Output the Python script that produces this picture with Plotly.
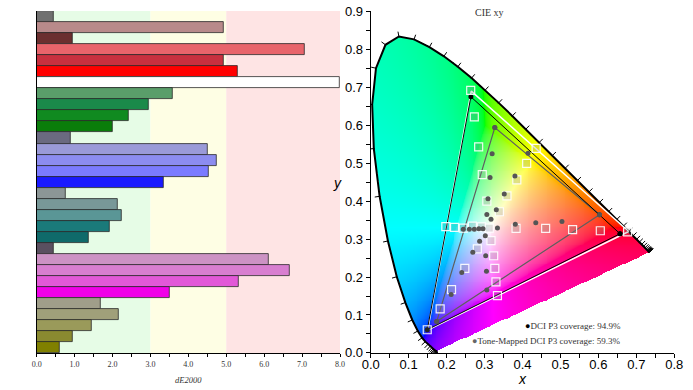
import numpy as np
import plotly.graph_objects as go

# ---------------- Left panel: dE2000 bars ----------------
bar_values = [0.44, 4.92, 0.95, 7.08, 4.93, 5.30, 7.98, 3.60, 2.95, 2.43, 2.00,
              0.90, 4.52, 4.76, 4.53, 3.36, 0.76, 2.14, 2.24, 1.93, 1.37, 0.44,
              6.12, 6.67, 5.32, 3.51, 1.68, 2.17, 1.45, 0.96, 0.61]
bar_colors = ["#707070", "#b88a8a", "#6b2f2f", "#e8646b", "#c8303f", "#ff0000", "#ffffff",
              "#5a9e6a", "#1a8a4a", "#108a20", "#0a7d0a", "#6a6a80", "#9a9ad8", "#8c8cf0",
              "#7b7bff", "#1a1aff", "#8c9696", "#789898", "#5a9696", "#1a7a7a", "#0f6a6a",
              "#5a5060", "#cc92c4", "#d87ed0", "#e258d8", "#f000e8", "#a09e8a", "#a0a07a",
              "#9a9a5a", "#8a8a30", "#808000"]
band_edges = [0, 3, 5, 8]
band_colors = ["#e6fce6", "#fefee4", "#fee4e4"]
left_ticks = [0, 1, 2, 3, 4, 5, 6, 7, 8]

# ---------------- Right panel: CIE 1931 xy ----------------
wavelengths = list(range(380, 705, 5))
locus_x = [0.1741, 0.1740, 0.1738, 0.1736, 0.1733, 0.1730, 0.1726, 0.1721, 0.1714, 0.1703,
           0.1689, 0.1669, 0.1644, 0.1611, 0.1566, 0.1510, 0.1440, 0.1355, 0.1241, 0.1096,
           0.0913, 0.0687, 0.0454, 0.0235, 0.0082, 0.0039, 0.0139, 0.0389, 0.0743, 0.1142,
           0.1547, 0.1929, 0.2296, 0.2658, 0.3016, 0.3373, 0.3731, 0.4087, 0.4441, 0.4788,
           0.5125, 0.5448, 0.5752, 0.6029, 0.6270, 0.6482, 0.6658, 0.6801, 0.6915, 0.7006,
           0.7079, 0.7140, 0.7190, 0.7230, 0.7260, 0.7283, 0.7300, 0.7311, 0.7320, 0.7327,
           0.7334, 0.7340, 0.7344, 0.7346, 0.7347]
locus_y = [0.0050, 0.0050, 0.0049, 0.0049, 0.0048, 0.0048, 0.0048, 0.0048, 0.0051, 0.0058,
           0.0069, 0.0086, 0.0109, 0.0138, 0.0177, 0.0227, 0.0297, 0.0399, 0.0578, 0.0868,
           0.1327, 0.2007, 0.2950, 0.4127, 0.5384, 0.6548, 0.7502, 0.8120, 0.8338, 0.8262,
           0.8059, 0.7816, 0.7543, 0.7243, 0.6923, 0.6589, 0.6245, 0.5896, 0.5547, 0.5202,
           0.4866, 0.4544, 0.4242, 0.3965, 0.3725, 0.3514, 0.3340, 0.3197, 0.3083, 0.2993,
           0.2920, 0.2859, 0.2809, 0.2770, 0.2740, 0.2717, 0.2700, 0.2689, 0.2680, 0.2673,
           0.2666, 0.2660, 0.2656, 0.2654, 0.2653]

p3_target_x = [0.680, 0.265, 0.150]
p3_target_y = [0.320, 0.690, 0.060]
p3_measured_x = [0.657, 0.264, 0.149]
p3_measured_y = [0.314, 0.675, 0.061]
tm_x = [0.603, 0.327, 0.174]
tm_y = [0.364, 0.594, 0.083]

target_x = [0.2635, 0.273, 0.2845, 0.294, 0.306,
            0.436, 0.411, 0.385, 0.359, 0.339,
            0.677, 0.605, 0.532, 0.461, 0.383,
            0.198, 0.221, 0.244, 0.268, 0.292, 0.3125,
            0.334, 0.330, 0.327, 0.324, 0.317,
            0.149, 0.183, 0.213, 0.248, 0.281]
target_y = [0.692, 0.622, 0.543, 0.470, 0.400,
            0.539, 0.4995, 0.456, 0.414, 0.372,
            0.319, 0.322, 0.325, 0.328, 0.328,
            0.333, 0.331, 0.329, 0.334, 0.332, 0.329,
            0.151, 0.187, 0.223, 0.256, 0.296,
            0.061, 0.116, 0.167, 0.223, 0.274]

measured_x = [0.327, 0.320, 0.3145, 0.309, 0.306,
              0.4145, 0.380, 0.352, 0.331, 0.317,
              0.603, 0.504, 0.435, 0.381, 0.334,
              0.244, 0.260, 0.273, 0.285, 0.296,
              0.302, 0.287, 0.269, 0.240, 0.212,
              0.306, 0.305, 0.303, 0.174]
measured_y = [0.594, 0.525, 0.462, 0.406, 0.365,
              0.526, 0.466, 0.419, 0.377, 0.352,
              0.364, 0.346, 0.343, 0.339, 0.329,
              0.326, 0.326, 0.326, 0.327, 0.327,
              0.309, 0.294, 0.265, 0.212, 0.154,
              0.166, 0.215, 0.256, 0.083]

coverage_labels = ["DCI P3 coverage: 94.9%", "Tone-Mapped DCI P3 coverage: 59.3%"]

# ---------------- chromaticity image ----------------
step = 0.0025
xs = np.arange(step / 2, 0.745, step)
ys = np.arange(step / 2, 0.845, step)
PX, PY = np.meshgrid(xs, ys)

vx = np.array(locus_x)
vy = np.array(locus_y)
inside = np.zeros(PX.shape, bool)
n = len(vx)
j = n - 1
with np.errstate(divide="ignore", invalid="ignore"):
    for i in range(n):
        xi, yi, xj, yj = vx[i], vy[i], vx[j], vy[j]
        if yi != yj:
            cond = ((yi > PY) != (yj > PY)) & (PX < (xj - xi) * (PY - yi) / (yj - yi) + xi)
            inside ^= cond
        j = i

X = PX / PY
Z = (1 - PX - PY) / PY
R = 3.2406 * X - 1.5372 - 0.4986 * Z
G = -0.9689 * X + 1.8758 + 0.0415 * Z
B = 0.0557 * X - 0.2040 + 1.0570 * Z
rgb = np.stack([R, G, B], -1)
rgb = rgb - np.minimum(rgb.min(-1, keepdims=True), 0)   # desaturate by adding white
rgb = rgb / np.maximum(rgb.max(-1, keepdims=True), 1e-9)
rgb = np.where(rgb <= 0.0031308, 12.92 * rgb, 1.055 * np.power(rgb, 1 / 2.4) - 0.055)
rgb8 = np.round(rgb * 255).astype(int)
alpha = inside.astype(int)
img = np.concatenate([rgb8, alpha[..., None]], -1)
img[~inside] = [255, 255, 255, 0]

# locus tick marks (outward normals)
tx = np.gradient(vx)
ty = np.gradient(vy)
nrm = np.hypot(tx, ty)
nx, ny = -ty / nrm, tx / nrm
tick_len = 0.013
tick_x, tick_y = [], []
for k in range(len(vx)):
    tick_x += [vx[k] - 0.002 * nx[k], vx[k] + tick_len * nx[k], None]
    tick_y += [vy[k] - 0.002 * ny[k], vy[k] + tick_len * ny[k], None]

# ---------------- figure ----------------
fig = go.Figure()

fig.add_trace(go.Bar(
    x=bar_values, y=list(range(len(bar_values))), orientation="h",
    marker=dict(color=bar_colors, line=dict(color="#2a2a2a", width=0.8)),
    width=1.0, xaxis="x", yaxis="y", showlegend=False, hoverinfo="x"))

fig.add_trace(go.Image(z=img.tolist(), colormodel="rgba", x0=xs[0], dx=step,
                       y0=ys[0], dy=step, xaxis="x2", yaxis="y2", hoverinfo="skip"))

fig.add_trace(go.Scatter(x=tick_x, y=tick_y, mode="lines",
                         line=dict(color="black", width=1), xaxis="x2", yaxis="y2",
                         showlegend=False, hoverinfo="skip"))
fig.add_trace(go.Scatter(x=locus_x, y=locus_y, mode="lines",
                         line=dict(color="black", width=2), xaxis="x2", yaxis="y2",
                         showlegend=False, hoverinfo="skip"))

# triangles
fig.add_trace(go.Scatter(x=p3_target_x + [p3_target_x[0]], y=p3_target_y + [p3_target_y[0]],
                         mode="lines", line=dict(color="white", width=1.5),
                         xaxis="x2", yaxis="y2", showlegend=False, hoverinfo="skip"))
fig.add_trace(go.Scatter(x=tm_x + [tm_x[0]], y=tm_y + [tm_y[0]],
                         mode="lines+markers", line=dict(color="#5f5f5f", width=1.2),
                         marker=dict(color="#555555", size=5),
                         xaxis="x2", yaxis="y2", showlegend=False, hoverinfo="skip"))
fig.add_trace(go.Scatter(x=p3_measured_x + [p3_measured_x[0]], y=p3_measured_y + [p3_measured_y[0]],
                         mode="lines+markers", line=dict(color="black", width=1),
                         marker=dict(color="black", size=5),
                         xaxis="x2", yaxis="y2", showlegend=False, hoverinfo="skip"))

# targets & measured points
fig.add_trace(go.Scatter(x=target_x, y=target_y, mode="markers",
                         marker=dict(symbol="square", size=8, color="rgba(140,140,140,0.25)",
                                     line=dict(color="rgba(255,255,255,0.9)", width=1.2)),
                         xaxis="x2", yaxis="y2", showlegend=False, hoverinfo="x+y"))
fig.add_trace(go.Scatter(x=measured_x, y=measured_y, mode="markers",
                         marker=dict(color="#555555", size=5),
                         xaxis="x2", yaxis="y2", showlegend=False, hoverinfo="x+y"))

# background bands for left panel
for k in range(len(band_colors)):
    fig.add_shape(type="rect", xref="x", yref="y domain",
                  x0=band_edges[k], x1=band_edges[k + 1], y0=0, y1=1,
                  fillcolor=band_colors[k], line=dict(width=0), layer="below")

ydom = [1 - 353.3 / 390, 1 - 11 / 390]
serif = "Liberation Serif, Times New Roman, serif"
sans = "Liberation Sans, Arial, sans-serif"

fig.update_layout(
    width=693, height=390,
    margin=dict(l=0, r=0, t=0, b=0, autoexpand=False),
    paper_bgcolor="white", plot_bgcolor="rgba(0,0,0,0)",
    bargap=0,
    xaxis=dict(domain=[36.7 / 693, 340 / 693], range=[0, 8], tickvals=left_ticks,
               ticktext=[f"{v:.1f}" for v in left_ticks], automargin=False,
               tickfont=dict(family=serif, size=8, color="#333"),
               ticks="outside", ticklen=3, tickcolor="black",
               minor=dict(dtick=0.5, ticks="outside", ticklen=3, tickcolor="black"),
               showline=True, linecolor="black", linewidth=1, showgrid=False, zeroline=False),
    yaxis=dict(domain=ydom, range=[len(bar_values) - 0.5, -0.5], showticklabels=False,
               automargin=False,
               ticks="", showline=True, linecolor="black", linewidth=1, showgrid=False,
               zeroline=False),
    xaxis2=dict(domain=[370.7 / 693, 674.3 / 693], range=[0, 0.8], anchor="y2", dtick=0.1,
                tickformat=".1f", tickfont=dict(family=sans, size=13, color="black"),
                automargin=False, ticklabelstandoff=-5,
                ticks="outside", ticklen=4, tickcolor="black",
                minor=dict(dtick=0.05, ticks="outside", ticklen=4, tickcolor="black"),
                showline=True, linecolor="black", linewidth=1, showgrid=False, zeroline=False),
    yaxis2=dict(domain=ydom, range=[0, 0.9], anchor="x2", dtick=0.1, tickformat=".1f",
                tickfont=dict(family=sans, size=13, color="black"), automargin=False,
                ticks="outside", ticklen=4, tickcolor="black",
                minor=dict(dtick=0.05, ticks="outside", ticklen=4, tickcolor="black"),
                showline=True, linecolor="black", linewidth=1, showgrid=False, zeroline=False,
                autorange=False),
    annotations=[
        dict(text="CIE xy", xref="paper", yref="paper", x=489 / 693, y=1 - 13 / 390,
             showarrow=False, font=dict(family=serif, size=10, color="#333"),
             xanchor="center", yanchor="middle"),
        dict(text="<i>dE2000</i>", xref="paper", yref="paper", x=188 / 693, y=1 - 380 / 390,
             showarrow=False, font=dict(family=serif, size=8.5, color="#333"),
             xanchor="center", yanchor="middle"),
        dict(text="<i>x</i>", xref="paper", yref="paper", x=522 / 693, y=1 - 379 / 390,
             showarrow=False, font=dict(family=sans, size=14, color="black"),
             xanchor="center", yanchor="middle"),
        dict(text="<i>y</i>", xref="paper", yref="paper", x=337 / 693, y=1 - 183 / 390,
             showarrow=False, font=dict(family=sans, size=14, color="black"),
             xanchor="center", yanchor="middle"),
        dict(text="<span style='color:black'>●</span>" + coverage_labels[0],
             xref="paper", yref="paper", x=623 / 693, y=1 - 326 / 390,
             showarrow=False, font=dict(family=serif, size=9, color="#333"),
             xanchor="right", yanchor="middle"),
        dict(text="<span style='color:#666'>●</span>" + coverage_labels[1],
             xref="paper", yref="paper", x=623 / 693, y=1 - 341 / 390,
             showarrow=False, font=dict(family=serif, size=9, color="#333"),
             xanchor="right", yanchor="middle"),
    ],
)

fig.write_html("out.html", config={"displayModeBar": False},
               post_script="document.body.style.margin='0';document.body.style.padding='0';")
